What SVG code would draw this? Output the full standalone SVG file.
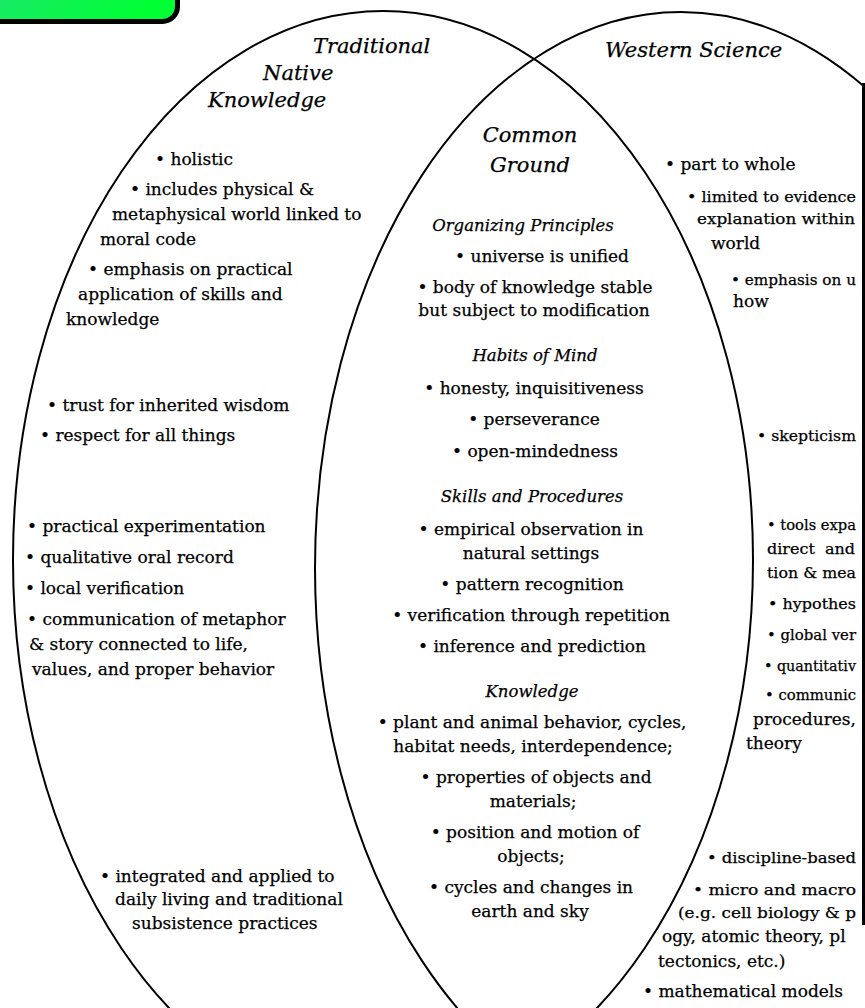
<svg xmlns="http://www.w3.org/2000/svg" width="865" height="1008" viewBox="0 0 865 1008">
<style>
.o{fill:none;stroke:#000;stroke-width:2}
text{font-family:"DejaVu Serif","Liberation Serif",serif;fill:#000;stroke:#000;stroke-width:0.25}
.b{font-size:17px}
.e{font-size:15.5px}
.h{font-size:16.5px;font-style:italic}
.t{font-size:21px;font-style:italic}
</style>
<defs>
<linearGradient id="g" x1="0" y1="0" x2="1" y2="0.3">
<stop offset="0" stop-color="#22e27c"/>
<stop offset="1" stop-color="#00ff33"/>
</linearGradient>
</defs>
<rect width="865" height="1008" fill="#fff"/>
<g id="label-box">
<rect x="-30" y="-30" width="207.5" height="51.5" rx="15" fill="url(#g)" stroke="#000" stroke-width="5"/>
</g>
<g id="traditional-native-knowledge">
<ellipse class="o" cx="383" cy="560" rx="370" ry="549"/>
<text class="t" x="313" y="53">Traditional</text>
<text class="t" x="263" y="80">Native</text>
<text class="t" x="208" y="107">Knowledge</text>
<text class="b" x="155" y="165">• holistic</text>
<text class="b" x="130" y="195">• includes physical &amp;</text>
<text class="b" x="112" y="220">metaphysical world linked to</text>
<text class="b" x="100" y="245">moral code</text>
<text class="b" x="88" y="275">• emphasis on practical</text>
<text class="b" x="78" y="300">application of skills and</text>
<text class="b" x="66" y="325">knowledge</text>
<text class="b" x="47" y="411">• trust for inherited wisdom</text>
<text class="b" x="40" y="441">• respect for all things</text>
<text class="b" x="27" y="532">• practical experimentation</text>
<text class="b" x="25" y="563">• qualitative oral record</text>
<text class="b" x="25" y="594">• local verification</text>
<text class="b" x="27" y="625">• communication of metaphor</text>
<text class="b" x="29" y="650">&amp; story connected to life,</text>
<text class="b" x="32" y="675">values, and proper behavior</text>
<text class="b" x="100" y="882">• integrated and applied to</text>
<text class="b" x="115" y="905">daily living and traditional</text>
<text class="b" x="132" y="929">subsistence practices</text>
</g>
<g id="western-science">
<ellipse class="o" cx="681" cy="568" rx="366" ry="556"/>
<text class="t" x="605" y="57">Western Science</text>
<text class="b" x="665" y="170">• part to whole</text>
<text class="e" x="687" y="202" textLength="169" lengthAdjust="spacingAndGlyphs">• limited to evidence</text>
<text class="e" x="697" y="224" textLength="158" lengthAdjust="spacingAndGlyphs">explanation within</text>
<text class="b" x="711" y="249">world</text>
<text class="e" x="731" y="285" textLength="125" lengthAdjust="spacingAndGlyphs">• emphasis on u</text>
<text class="b" x="733" y="307">how</text>
<text class="e" x="757" y="441" textLength="99" lengthAdjust="spacingAndGlyphs">• skepticism</text>
<text class="e" x="767" y="530" textLength="89" lengthAdjust="spacingAndGlyphs">• tools expa</text>
<text class="e" x="767" y="554" xml:space="preserve" textLength="88" lengthAdjust="spacingAndGlyphs">direct  and</text>
<text class="e" x="767" y="578" textLength="89" lengthAdjust="spacingAndGlyphs">tion &amp; mea</text>
<text class="e" x="768" y="609" textLength="88" lengthAdjust="spacingAndGlyphs">• hypothes</text>
<text class="e" x="767" y="640" textLength="89" lengthAdjust="spacingAndGlyphs">• global ver</text>
<text class="e" x="764" y="671" textLength="92" lengthAdjust="spacingAndGlyphs">• quantitativ</text>
<text class="e" x="765" y="700" textLength="91" lengthAdjust="spacingAndGlyphs">• communic</text>
<text class="b" x="753" y="725">procedures,</text>
<text class="b" x="746" y="749">theory</text>
<text class="e" x="707" y="863" textLength="149" lengthAdjust="spacingAndGlyphs">• discipline-based</text>
<text class="e" x="693" y="895" textLength="163" lengthAdjust="spacingAndGlyphs">• micro and macro</text>
<text class="e" x="678" y="918" textLength="178" lengthAdjust="spacingAndGlyphs">(e.g. cell biology &amp; p</text>
<text class="b" x="662" y="942">ogy, atomic theory, pl</text>
<text class="b" x="658" y="967">tectonics, etc.)</text>
<text class="b" x="643" y="997">• mathematical models</text>
<rect x="862" y="83" width="3" height="842" fill="#000"/>
</g>
<g id="common-ground" text-anchor="middle">
<text class="t" x="530" y="142">Common</text>
<text class="t" x="530" y="172">Ground</text>
<text class="h" x="523" y="231">Organizing Principles</text>
<text class="b" x="542" y="262">• universe is unified</text>
<text class="b" x="535" y="293">• body of knowledge stable</text>
<text class="b" x="534" y="316">but subject to modification</text>
<text class="h" x="535" y="361">Habits of Mind</text>
<text class="b" x="534" y="394">• honesty, inquisitiveness</text>
<text class="b" x="534" y="425">• perseverance</text>
<text class="b" x="535" y="457">• open-mindedness</text>
<text class="h" x="532" y="502">Skills and Procedures</text>
<text class="b" x="531" y="535">• empirical observation in</text>
<text class="b" x="531" y="559">natural settings</text>
<text class="b" x="532" y="590">• pattern recognition</text>
<text class="b" x="531" y="621">• verification through repetition</text>
<text class="b" x="532" y="652">• inference and prediction</text>
<text class="h" x="532" y="697">Knowledge</text>
<text class="b" x="532" y="728">• plant and animal behavior, cycles,</text>
<text class="b" x="533" y="752">habitat needs, interdependence;</text>
<text class="b" x="536" y="783">• properties of objects and</text>
<text class="b" x="533" y="807">materials;</text>
<text class="b" x="535" y="838">• position and motion of</text>
<text class="b" x="531" y="862">objects;</text>
<text class="b" x="531" y="893">• cycles and changes in</text>
<text class="b" x="530" y="917">earth and sky</text>
</g>
</svg>
